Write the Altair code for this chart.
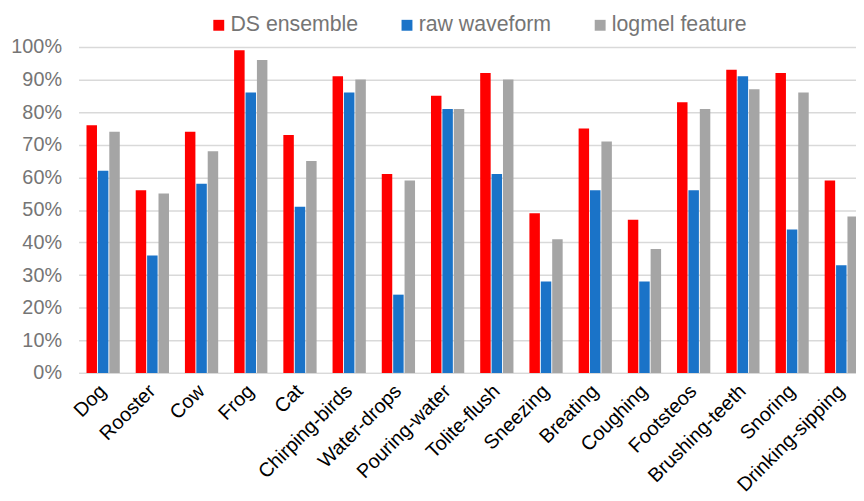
import altair as alt
import pandas as pd

categories = ["Dog", "Rooster", "Cow", "Frog", "Cat", "Chirping-birds", "Water-drops",
              "Pouring-water", "Tolite-flush", "Sneezing", "Breating", "Coughing",
              "Footsteos", "Brushing-teeth", "Snoring", "Drinking-sipping"]
series = ["DS ensemble", "raw waveform", "logmel feature"]
ds_ensemble = [76, 56, 74, 99, 73, 91, 61, 85, 92, 49, 75, 47, 83, 93, 92, 59]
raw_waveform = [62, 36, 58, 86, 51, 86, 24, 81, 61, 28, 56, 28, 56, 91, 44, 33]
logmel_feature = [74, 55, 68, 96, 65, 90, 59, 81, 90, 41, 71, 38, 81, 87, 86, 48]
colors = ["#FF0000", "#1A73C8", "#A5A5A5"]
y_ticks = [0, 0.1, 0.2, 0.3, 0.4, 0.5, 0.6, 0.7, 0.8, 0.9, 1.0]

rows = []
for i, c in enumerate(categories):
    for s, vals in zip(series, [ds_ensemble, raw_waveform, logmel_feature]):
        rows.append({"category": c, "series": s, "value": vals[i] / 100})
df = pd.DataFrame(rows)

FONT = "Liberation Sans"

chart = alt.Chart(df).mark_bar().encode(
    x=alt.X("category:N", sort=categories,
            scale=alt.Scale(range=[-0.8, 794], paddingInner=0.324, paddingOuter=0.162),
            axis=alt.Axis(title=None, labelAngle=315, labelAlign="right", labelBaseline="middle",
                          labelFontSize=20, labelColor="#000000", labelFont=FONT,
                          ticks=False, domainColor="#d9d9d9", domainWidth=1.5,
                          labelPadding=15, labelOverlap=False)),
    xOffset=alt.XOffset("series:N", sort=series,
                        scale=alt.Scale(paddingInner=0.08, paddingOuter=0)),
    y=alt.Y("value:Q", scale=alt.Scale(domain=[0, 1]),
            axis=alt.Axis(title=None, format=".0%", values=y_ticks, labelFontSize=20,
                          labelColor="#757575", labelFont=FONT, domain=False, ticks=False,
                          gridColor="#d9d9d9", gridWidth=1.5, labelPadding=18)),
    color=alt.Color("series:N", sort=series,
                    scale=alt.Scale(domain=series, range=colors),
                    legend=alt.Legend(title=None, orient="none", legendX=130, legendY=-33,
                                      direction="horizontal", symbolType="square",
                                      symbolSize=121, symbolStrokeWidth=0,
                                      labelFontSize=21.5, labelColor="#757575", labelFont=FONT,
                                      columnPadding=38, labelOffset=1)),
).properties(
    width=784, height=329,
    autosize=alt.AutoSizeParams(type="none"),
    padding={"left": 72, "top": 37, "right": 0, "bottom": 127},
).configure_view(strokeWidth=0)

chart.save("out.html", embed_options={"renderer": "svg", "actions": False})
